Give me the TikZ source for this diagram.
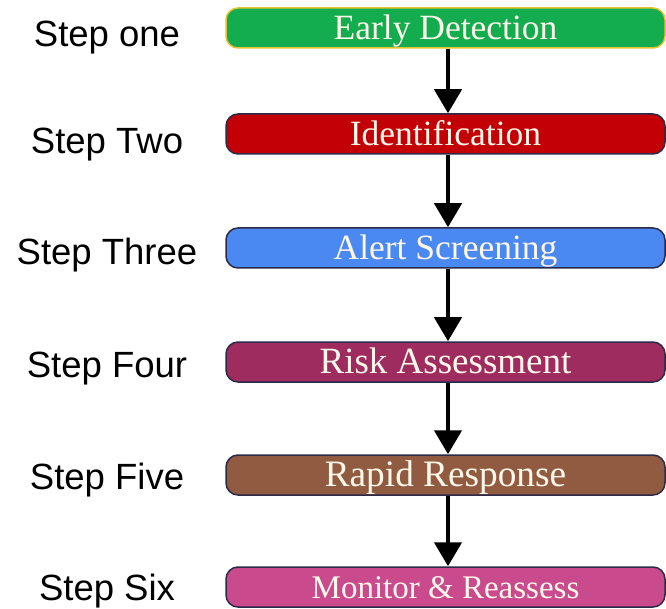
\documentclass[tikz,border=0pt]{standalone}
\usepackage{fontspec}
\setmainfont{Liberation Serif}
\newfontfamily\labelfont{Liberation Sans}
\usetikzlibrary{arrows.meta}

\definecolor{cEarly}{HTML}{13AD4F}
\definecolor{cIdent}{HTML}{C20005}
\definecolor{cAlert}{HTML}{4A88F2}
\definecolor{cRisk}{HTML}{9E2C5E}
\definecolor{cRapid}{HTML}{915B41}
\definecolor{cMonitor}{HTML}{C94B8D}
\definecolor{cEdge}{HTML}{2B2A48}
\definecolor{cGold}{HTML}{E6C22E}
\definecolor{cText}{HTML}{FFF8EA}

\tikzset{
  stagebox/.style={draw=cEdge, line width=1.5pt, rounded corners=12pt,
    minimum width=439pt, minimum height=40pt, inner sep=0pt,
    text height=23.5pt, text depth=0pt, text=cText,
    font=\fontsize{#1}{#1}\selectfont},
  stagebox/.default=35.5,
  steplabel/.style={inner sep=0pt, text height=26pt, text depth=0pt,
    font=\labelfont\fontsize{36.5}{36.5}\selectfont},
  flow/.style={line width=4.5pt, -{Triangle[width=27pt,length=24pt]}}
}

\begin{document}
\begin{tikzpicture}[x=1pt,y=-1pt]
  \useasboundingbox (0,0) rectangle (666,609);

  % process stages
  \node[stagebox, fill=cEarly, draw=cGold] (b1) at (445.5,28)  {Early Detection};
  \node[stagebox, fill=cIdent]       (b2) at (445.5,134) {Identification};
  \node[stagebox, fill=cAlert]       (b3) at (445.5,248) {Alert Screening};
  \node[stagebox=37, fill=cRisk]     (b4) at (445.5,362) {Risk Assessment};
  \node[stagebox=37.3, fill=cRapid]  (b5) at (445.5,475) {Rapid Response};
  \node[stagebox=33, fill=cMonitor]  (b6) at (445.5,587) {Monitor \& Reassess};

  % step labels
  \node[steplabel] (s1) at (107,34)  {Step one};
  \node[steplabel] (s2) at (107,141) {Step Two};
  \node[steplabel] (s3) at (107,252) {Step Three};
  \node[steplabel] (s4) at (107,364) {Step Four};
  \node[steplabel] (s5) at (107,476) {Step Five};
  \node[steplabel] (s6) at (107,587) {Step Six};

  % connectors
  \foreach \a/\b in {b1/b2,b2/b3,b3/b4,b4/b5,b5/b6}
    \draw[flow] ([xshift=2.5pt]\a.south) -- ([xshift=2.5pt]\b.north);
\end{tikzpicture}
\end{document}
